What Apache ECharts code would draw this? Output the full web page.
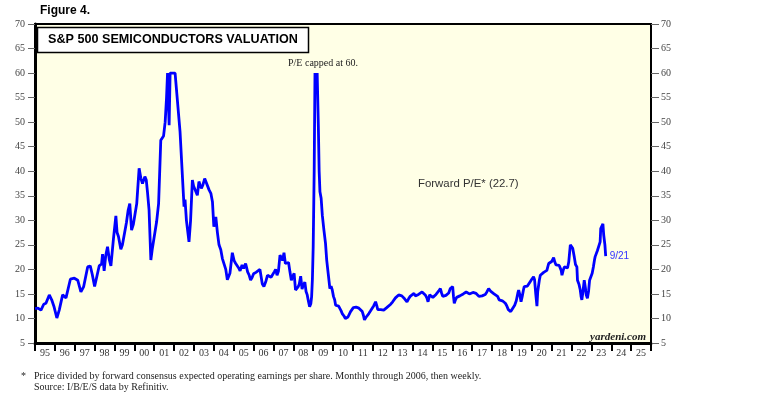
<!DOCTYPE html>
<html>
    <head>
        <meta charset="utf-8">
        <script src="https://cdn.jsdelivr.net/npm/echarts@6.0.0/dist/echarts.min.js"></script>
        <style>
            body { margin: 0; background: #fff; }
        </style>
    </head>
    <body>
        <div id="main" style="width: 758px; height: 400px;"></div>
        <script>
            // year labels under the x axis (one per calendar year)
            var yearLabels = ['95', '96', '97', '98', '99', '00', '01', '02', '03', '04', '05', '06', '07', '08', '09',
                '10', '11', '12', '13', '14', '15', '16', '17', '18', '19', '20', '21', '22', '23', '24', '25'];

            // forward P/E (decimal year, value)
            var years = [
                1995.00, 1995.15, 1995.30, 1995.44, 1995.55, 1995.72, 1995.84, 1995.95,
                1996.10, 1996.22, 1996.30, 1996.39, 1996.48, 1996.56, 1996.78, 1996.98,
                1997.08, 1997.15, 1997.22, 1997.31, 1997.38, 1997.45, 1997.55, 1997.65, 1997.78, 1997.88,
                1998.00, 1998.08, 1998.23, 1998.35, 1998.40, 1998.48, 1998.56, 1998.65, 1998.74, 1998.82, 1998.95,
                1999.02, 1999.07, 1999.13, 1999.20, 1999.32, 1999.40, 1999.49, 1999.60, 1999.69, 1999.77, 1999.86, 1999.95,
                2000.03, 2000.12, 2000.24, 2000.33, 2000.41, 2000.53, 2000.60, 2000.66, 2000.74, 2000.83, 2000.90,
                2001.00, 2001.12, 2001.22, 2001.33, 2001.47, 2001.55, 2001.62, 2001.67, 2001.75, 2001.80, 2001.90,
                2002.05, 2002.14, 2002.30, 2002.50, 2002.55, 2002.62, 2002.75, 2002.83, 2002.92, 2002.98,
                2003.05, 2003.17, 2003.25, 2003.37, 2003.45, 2003.54, 2003.64, 2003.76, 2003.85, 2003.93,
                2004.00, 2004.10, 2004.18, 2004.26, 2004.35, 2004.43, 2004.52, 2004.60, 2004.68, 2004.75, 2004.81, 2004.93,
                2005.02, 2005.10, 2005.18, 2005.25, 2005.32, 2005.42, 2005.50, 2005.60, 2005.70, 2005.78, 2005.85, 2005.93,
                2006.00, 2006.12, 2006.22, 2006.32, 2006.38, 2006.44, 2006.52, 2006.62, 2006.70, 2006.80, 2006.88, 2006.95,
                2007.04, 2007.11, 2007.18, 2007.25, 2007.33, 2007.40, 2007.46, 2007.53, 2007.60, 2007.68, 2007.76, 2007.83, 2007.90, 2007.96,
                2008.04, 2008.11, 2008.18, 2008.25, 2008.30, 2008.37, 2008.44, 2008.50, 2008.58, 2008.64, 2008.70, 2008.76, 2008.82, 2008.88, 2008.92, 2008.96,
                2009.00, 2009.05, 2009.09, 2009.13, 2009.16, 2009.20, 2009.26, 2009.30, 2009.34, 2009.40, 2009.46, 2009.54, 2009.62, 2009.68, 2009.76, 2009.84, 2009.90, 2009.96,
                2010.02, 2010.08, 2010.13, 2010.20, 2010.28, 2010.34, 2010.40, 2010.46, 2010.55, 2010.62, 2010.68, 2010.75, 2010.82, 2010.88, 2010.96,
                2011.02, 2011.08, 2011.16, 2011.22, 2011.30, 2011.38, 2011.47, 2011.53, 2011.58, 2011.65, 2011.72, 2011.80, 2011.88, 2011.96,
                2012.05, 2012.14, 2012.20, 2012.25, 2012.30, 2012.40, 2012.48, 2012.55, 2012.62, 2012.70, 2012.80, 2012.90,
                2013.00, 2013.06, 2013.14, 2013.22, 2013.30, 2013.39, 2013.46, 2013.52, 2013.60, 2013.66, 2013.72, 2013.80, 2013.88, 2013.96,
                2014.07, 2014.14, 2014.22, 2014.30, 2014.40, 2014.48, 2014.56, 2014.64, 2014.72, 2014.78, 2014.81, 2014.86, 2014.94,
                2015.02, 2015.10, 2015.18, 2015.24, 2015.32, 2015.40, 2015.46, 2015.52, 2015.60, 2015.68, 2015.74, 2015.82, 2015.90,
                2016.02, 2016.06, 2016.10, 2016.16, 2016.22, 2016.30, 2016.38, 2016.45, 2016.55, 2016.62, 2016.70, 2016.78, 2016.86, 2016.94,
                2017.04, 2017.12, 2017.20, 2017.28, 2017.34, 2017.41, 2017.50, 2017.58, 2017.66, 2017.74, 2017.83, 2017.88, 2017.94,
                2018.02, 2018.10, 2018.20, 2018.28, 2018.36, 2018.44, 2018.52, 2018.60, 2018.67, 2018.74, 2018.82, 2018.88, 2018.94, 2018.99,
                2019.06, 2019.14, 2019.22, 2019.30, 2019.34, 2019.40, 2019.46, 2019.52, 2019.58, 2019.62, 2019.70, 2019.78, 2019.86, 2019.92,
                2020.00, 2020.09, 2020.14, 2020.20, 2020.26, 2020.30, 2020.38, 2020.43, 2020.52, 2020.60, 2020.68, 2020.76, 2020.85, 2020.92,
                2021.00, 2021.06, 2021.10, 2021.16, 2021.22, 2021.30, 2021.38, 2021.44, 2021.48, 2021.52, 2021.58, 2021.64, 2021.70, 2021.80, 2021.86, 2021.94,
                2022.00, 2022.06, 2022.14, 2022.20, 2022.27, 2022.30, 2022.38, 2022.44, 2022.48, 2022.52, 2022.58, 2022.64, 2022.70, 2022.74, 2022.80, 2022.86, 2022.91, 2022.96,
                2023.04, 2023.10, 2023.16, 2023.19, 2023.24, 2023.30, 2023.36, 2023.44, 2023.47, 2023.52, 2023.58, 2023.62, 2023.68, 2023.72
            ];
            var peValues = [
                12.0, 12.1, 11.7, 12.9, 13.1, 14.8, 13.8, 12.5,
                10.1, 11.7, 12.0, 14.8, 14.6, 14.2, 18.0, 18.2,
                17.9, 17.8, 18.1, 15.4, 15.1, 16.5, 16.6, 20.5, 20.7, 19.0,
                16.5, 16.9, 20.7, 21.1, 23.1, 19.7, 22.8, 24.6, 22.0, 20.7, 26.3,
                26.4, 30.9, 27.5, 26.7, 24.1, 25.0, 25.4, 29.5, 32.1, 33.4, 28.0, 29.2,
                29.2, 33.4, 40.6, 38.5, 37.5, 38.9, 38.2, 35.8, 32.1, 21.9, 24.1,
                24.1, 29.7, 33.4, 46.3, 47.2, 50.0, 55.0, 60.0, 49.4, 60.0, 60.0,
                60.0, 60.0, 48.0, 32.8, 34.2, 30.0, 25.6, 30.0, 38.2, 37.0,
                37.0, 35.1, 37.9, 36.5, 37.2, 38.5, 38.3, 36.2, 35.5, 33.8,
                28.7, 30.7, 27.5, 25.0, 24.0, 22.2, 22.0, 20.0, 17.9, 18.2, 19.2, 23.4,
                21.8, 21.2, 21.4, 20.3, 19.7, 20.9, 20.2, 21.2, 19.5, 18.8, 17.8, 18.4,
                19.1, 19.4, 19.0, 20.0, 18.5, 17.0, 16.5, 17.6, 18.8, 19.0, 18.4, 18.7,
                19.5, 20.0, 18.8, 19.6, 22.9, 22.4, 21.8, 23.4, 21.2, 21.6, 21.4, 19.5, 17.8, 18.5,
                19.2, 15.8, 16.2, 16.5, 17.0, 18.6, 16.0, 16.8, 17.4, 15.5, 14.8, 13.5, 12.4, 13.0, 14.4, 18.0,
                24.6, 40.0, 60.0, 60.0, 55.9, 60.0, 49.1, 40.0, 35.8, 34.5, 31.0, 28.0, 25.3, 21.9, 19.0, 16.1, 16.6, 15.8,
                14.5, 13.8, 12.7, 13.1, 12.5, 12.1, 11.6, 11.0, 10.5, 10.0, 9.7, 10.3, 10.9, 11.4, 11.8,
                12.2, 12.5, 12.3, 11.9, 12.1, 11.8, 11.4, 10.6, 9.7, 10.2, 10.6, 11.0, 11.5, 11.9,
                12.6, 13.4, 12.6, 11.8, 11.4, 11.8, 11.9, 11.7, 12.0, 12.2, 12.4, 12.9,
                13.4, 13.8, 14.2, 14.4, 14.8, 15.1, 14.6, 14.3, 14.0, 13.7, 13.4, 14.0, 14.5, 14.8,
                15.1, 14.6, 14.5, 14.9, 15.2, 15.4, 15.0, 14.8, 14.2, 13.4, 13.1, 14.8, 14.6,
                14.3, 14.7, 14.9, 15.1, 15.6, 16.1, 15.2, 14.5, 14.6, 14.7, 14.8, 15.2, 16.1,
                16.5, 14.5, 13.1, 13.8, 14.3, 14.5, 14.6, 14.8, 15.0, 15.2, 15.4, 15.2, 15.0, 15.1,
                15.3, 15.0, 15.1, 14.7, 14.5, 14.8, 14.6, 14.5, 14.9, 15.4, 16.1, 16.1, 15.5,
                15.1, 15.0, 14.8, 14.5, 13.8, 14.0, 13.6, 13.3, 13.1, 12.6, 11.8, 11.4, 11.4, 11.5,
                12.2, 12.7, 13.6, 15.2, 15.8, 14.8, 13.4, 14.5, 15.8, 16.5, 16.1, 16.6, 17.0, 17.5,
                18.0, 18.5, 17.9, 15.0, 12.5, 15.5, 17.8, 18.8, 19.0, 19.4, 19.2, 19.8, 21.2, 21.0,
                21.6, 22.0, 22.4, 21.5, 20.9, 20.5, 20.8, 20.7, 19.8, 18.8, 19.8, 20.5, 20.2, 20.3, 21.5, 25.0,
                24.6, 24.3, 22.5, 21.0, 20.5, 17.8, 16.9, 15.8, 14.5, 13.8, 15.6, 17.8, 16.2, 14.8, 14.1, 15.6, 17.8, 18.0,
                19.2, 20.5, 22.0, 22.6, 22.3, 23.8, 23.5, 25.6, 28.3, 28.0, 29.3, 27.0, 25.0, 22.7
            ];

            var chartDom = document.getElementById('main');
            var myChart = echarts.init(chartDom);
            var option;

            var serif = 'Liberation Serif';
            var sans = 'Liberation Sans';

            var seriesData = years.map(function (y, i) {
                return [y, peValues[i]];
            });

            option = {
                animation: false,
                backgroundColor: '#fff',
                grid: {
                    left: 35,
                    right: 107,
                    top: 24,
                    bottom: 57,
                    show: true,
                    backgroundColor: '#ffffe6',
                    borderColor: '#000',
                    borderWidth: 2
                },
                xAxis: [{
                    type: 'value',
                    min: 1995,
                    max: 2026,
                    show: false
                }, {
                    type: 'category',
                    data: yearLabels,
                    boundaryGap: true,
                    position: 'bottom',
                    axisLine: { show: true, lineStyle: { color: '#000', width: 3 } },
                    axisTick: { show: true, interval: 0, length: 8, lineStyle: { color: '#000', width: 2 } },
                    axisLabel: { interval: 0, margin: 5, fontFamily: serif, fontSize: 10, color: '#333' },
                    splitLine: { show: false }
                }],
                yAxis: [{
                    type: 'value',
                    min: 5,
                    max: 70,
                    interval: 5,
                    position: 'left',
                    axisLine: { show: true, lineStyle: { color: '#000', width: 3 } },
                    axisTick: { show: true, length: 7, lineStyle: { color: '#666', width: 1 } },
                    axisLabel: { margin: 10, fontFamily: serif, fontSize: 10, color: '#444' },
                    splitLine: { show: false }
                }, {
                    type: 'value',
                    min: 5,
                    max: 70,
                    interval: 5,
                    position: 'right',
                    axisLine: { show: true, lineStyle: { color: '#000', width: 1.5 } },
                    axisTick: { show: true, length: 8, lineStyle: { color: '#666', width: 1 } },
                    axisLabel: { margin: 10, fontFamily: serif, fontSize: 10, color: '#444' },
                    splitLine: { show: false }
                }],
                graphic: [{
                    type: 'text',
                    left: 40,
                    top: 5,
                    style: { text: 'Figure 4.', font: 'bold 12px ' + sans, fill: '#000' }
                }, {
                    type: 'rect',
                    shape: { x: 37.5, y: 27.5, width: 271, height: 25 },
                    style: { fill: '#fff', stroke: '#000', lineWidth: 1.5 },
                    z: 10
                }, {
                    type: 'text',
                    x: 173,
                    y: 40,
                    style: {
                        text: 'S&P 500 SEMICONDUCTORS VALUATION',
                        font: 'bold 12.6px ' + sans,
                        fill: '#000',
                        align: 'center',
                        verticalAlign: 'middle'
                    },
                    z: 11
                }, {
                    type: 'text',
                    x: 323,
                    y: 63,
                    style: {
                        text: 'P/E capped at 60.',
                        font: '10px ' + serif,
                        fill: '#222',
                        align: 'center',
                        verticalAlign: 'middle'
                    },
                    z: 11
                }, {
                    type: 'text',
                    x: 418,
                    y: 184,
                    style: {
                        text: 'Forward P/E* (22.7)',
                        font: '11.4px ' + sans,
                        fill: '#333',
                        verticalAlign: 'middle'
                    },
                    z: 11
                }, {
                    type: 'text',
                    x: 646,
                    y: 337,
                    style: {
                        text: 'yardeni.com',
                        font: 'italic bold 11px ' + serif,
                        fill: '#222',
                        align: 'right',
                        verticalAlign: 'middle'
                    },
                    z: 11
                }, {
                    type: 'text',
                    x: 21,
                    y: 376,
                    style: { text: '*', font: '10px ' + serif, fill: '#222', verticalAlign: 'middle' }
                }, {
                    type: 'text',
                    x: 34,
                    y: 376,
                    style: {
                        text: 'Price divided by forward consensus expected operating earnings per share. Monthly through 2006, then weekly.',
                        font: '10px ' + serif,
                        fill: '#222',
                        verticalAlign: 'middle'
                    }
                }, {
                    type: 'text',
                    x: 34,
                    y: 387,
                    style: {
                        text: 'Source: I/B/E/S data by Refinitiv.',
                        font: '10px ' + serif,
                        fill: '#222',
                        verticalAlign: 'middle'
                    }
                }],
                series: [{
                    name: 'Forward P/E',
                    type: 'line',
                    xAxisIndex: 0,
                    yAxisIndex: 0,
                    data: seriesData,
                    showSymbol: false,
                    lineStyle: { color: '#0000ff', width: 2.8 },
                    endLabel: {
                        show: true,
                        formatter: '9/21',
                        color: '#3333ff',
                        fontFamily: sans,
                        fontSize: 10,
                        distance: 4
                    }
                }]
            };

            option && myChart.setOption(option);
        </script>
    </body>
</html>
